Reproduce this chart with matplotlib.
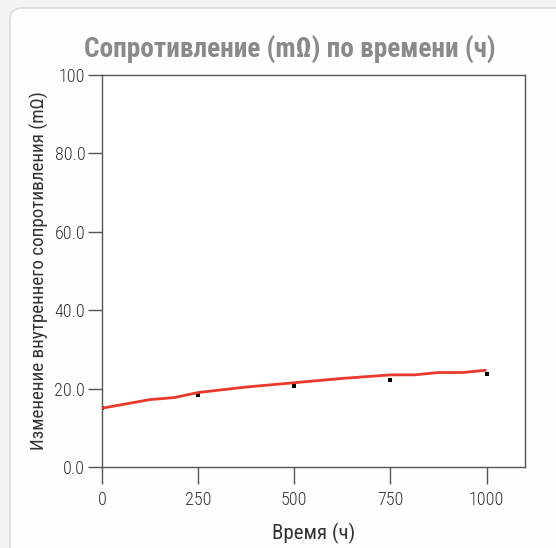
import matplotlib
matplotlib.use("Agg")
import matplotlib.pyplot as plt
from matplotlib.patches import FancyBboxPatch

FONT = ['Roboto Condensed', 'DejaVu Sans']

# Data
line_hours = [0, 125, 187.5, 250, 375, 500, 625, 750, 812.5, 875, 937.5, 1000]
line_mohm = [15.0, 17.2, 17.7, 19.0, 20.4, 21.5, 22.6, 23.5, 23.5, 24.1, 24.1, 24.7]
point_hours = [0, 250, 500, 750, 1000]
point_mohm = [15.0, 18.4, 20.6, 22.1, 23.6]
x_ticks = [0, 250, 500, 750, 1000]
y_ticks = [0, 20, 40, 60, 80, 100]
y_tick_labels = ['0.0', '20.0', '40.0', '60.0', '80.0', '100']

W, H = 556, 548
fig = plt.figure(figsize=(W / 100, H / 100), dpi=100)
fig.patch.set_facecolor('#f3f3f3')

card = FancyBboxPatch((10 / W, -0.1), 1.2, 1 - 8 / H + 0.1,
                      boxstyle="round,pad=0,rounding_size=0.022",
                      transform=fig.transFigure, facecolor='#fdfdfd',
                      edgecolor='#dcdcdc', linewidth=1.2, zorder=-10)
fig.patches.append(card)

ax = fig.add_axes([102 / W, 1 - 467 / H, (525 - 102) / W, (467 - 75) / H])
ax.set_zorder(1)
ax.set_facecolor('white')

ax.plot(line_hours, line_mohm, color='#e8392a', linewidth=2.0, zorder=3,
        solid_capstyle='butt')
ax.plot(point_hours, point_mohm, linestyle='none', marker='s', markersize=2.3,
        markeredgewidth=0, color='black', zorder=2)

ax.set_xlim(0, 1100)
ax.set_ylim(0, 100)
ax.set_xticks(x_ticks)
ax.set_xticklabels([str(t) for t in x_ticks])
ax.set_yticks(y_ticks)
ax.set_yticklabels(y_tick_labels)

for s in ax.spines.values():
    s.set_color('#555555')
    s.set_linewidth(1.0)

ax.tick_params(axis='both', direction='out', color='#555555', labelcolor='#333333',
               labelsize=13, width=1.0)
ax.tick_params(axis='y', length=10, pad=2)
ax.tick_params(axis='x', length=12, pad=5)
for lab in ax.get_xticklabels() + ax.get_yticklabels():
    lab.set_family(FONT)
    lab.set_fontweight('light')

ax.set_xlabel('Время (ч)', family=FONT, fontsize=15, color='#333333', labelpad=10)
ax.set_ylabel('Изменение внутреннего сопротивления (mΩ)', family=FONT,
              fontsize=13.8, color='#333333', labelpad=4)

fig.text(290 / W, 1 - 50 / H, 'Сопротивление (mΩ) по времени (ч)', family=FONT,
         fontsize=19.6, fontweight='black', color='#8a8a8a', ha='center', va='center')

fig.savefig('out.png', dpi=100, facecolor=fig.get_facecolor())
